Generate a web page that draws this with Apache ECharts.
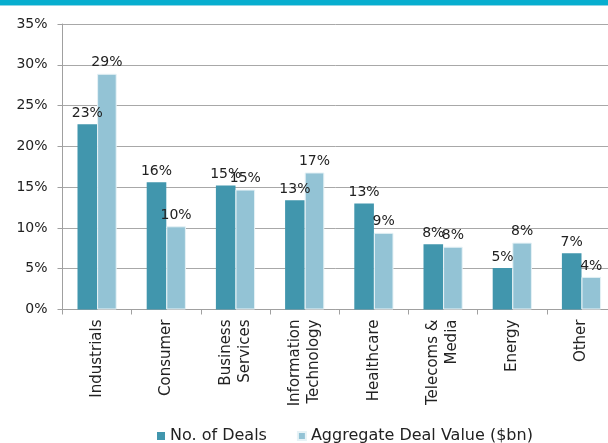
<!DOCTYPE html>
<html><head><meta charset="utf-8">
<script src="https://cdn.jsdelivr.net/npm/echarts@6/dist/echarts.min.js"></script>
<style>html,body{margin:0;padding:0;background:#fff}#c{width:608px;height:443px}</style>
</head><body><div id="c"></div>
<script>
var categories = ["Industrials","Consumer","Business\nServices","Information\nTechnology","Healthcare","Telecoms &\nMedia","Energy","Other"];
var dealsCount = [22.7,15.6,15.2,13.4,13.0,8.0,5.1,6.9];
var dealValue = [28.9,10.2,14.7,16.8,9.4,7.7,8.2,4.0];
var seriesNames = ["No. of Deals","Aggregate Deal Value ($bn)"];
var yTicks = {min:0,max:35,interval:5};

var font = "DejaVu Sans";
var chart = echarts.init(document.getElementById('c'));
function lab(){return {show:true,position:'top',distance:4,color:'#222',fontFamily:font,fontSize:14,
  formatter:function(p){return Math.round(p.value)+'%';}};}
chart.setOption({
  animation:false,
  textStyle:{fontFamily:font},
  graphic:[{type:'rect',shape:{x:0,y:0,width:608,height:5},style:{fill:'#07aecf'}},
           {type:'rect',shape:{x:0,y:5,width:608,height:1},style:{fill:'#8fd6e6'}}],
  grid:{left:62.5,width:553.6,top:24,bottom:133.5,containLabel:false,outerBoundsMode:'none'},
  legend:{data:seriesNames,top:428,left:157,padding:0,itemWidth:8,itemHeight:8,itemGap:30,icon:'rect',
    textStyle:{fontFamily:font,fontSize:16,color:'#222'}},
  xAxis:{type:'category',data:categories,
    axisLine:{lineStyle:{color:'#a0a0a0'}},
    axisTick:{show:true,length:5,lineStyle:{color:'#a0a0a0'}},
    axisLabel:{interval:0,rotate:90,margin:10,color:'#222',fontFamily:font,fontSize:15,lineHeight:19}},
  yAxis:{type:'value',min:yTicks.min,max:yTicks.max,interval:yTicks.interval,
    axisLine:{show:true,lineStyle:{color:'#a0a0a0'}},
    axisTick:{show:true,length:5,lineStyle:{color:'#a0a0a0'}},
    splitLine:{lineStyle:{color:'#a8a8a8'}},
    axisLabel:{formatter:'{value}%',color:'#222',fontFamily:font,fontSize:14,margin:15}},
  series:[
    {name:seriesNames[0],type:'bar',data:dealsCount,barWidth:19.6,barGap:'0%',
     itemStyle:{color:'#4196ad'},label:lab()},
    {name:seriesNames[1],type:'bar',data:dealValue,barWidth:19.6,
     itemStyle:{color:'#93c3d5',borderColor:'#e6f2f6',borderWidth:1},label:lab()}
  ]
});
</script></body></html>
